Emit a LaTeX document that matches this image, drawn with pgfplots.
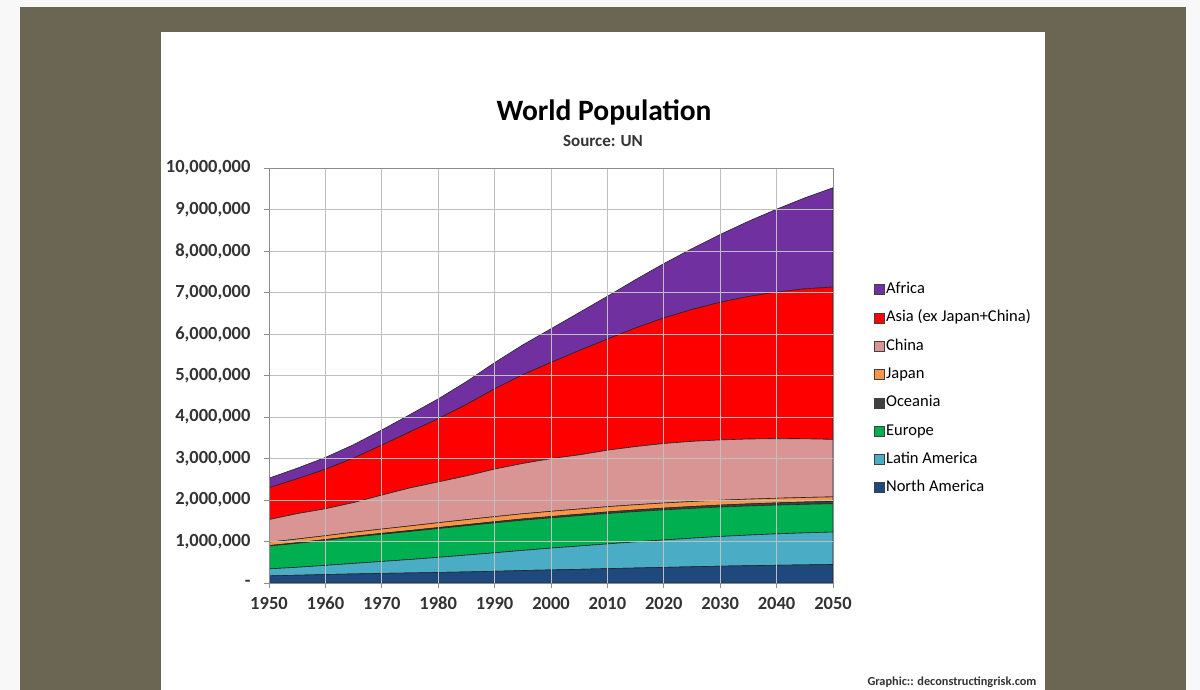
\documentclass[border=0pt]{standalone}
\usepackage{pgfplots}
\usepackage{pgfplotstable}
\usepackage{fontspec}
\setmainfont{Carlito}
\pgfplotsset{compat=1.18}

\definecolor{olivebg}{HTML}{6B6553}
\definecolor{edgebg}{HTML}{F8F8F8}
\definecolor{cAfrica}{HTML}{7030A0}
\definecolor{cAsia}{HTML}{FF0000}
\definecolor{cChina}{HTML}{D99594}
\definecolor{cJapan}{HTML}{F79646}
\definecolor{cOceania}{HTML}{404040}
\definecolor{cEurope}{HTML}{00B050}
\definecolor{cLatAm}{HTML}{4BACC6}
\definecolor{cNorAm}{HTML}{1F497D}
\definecolor{gridc}{HTML}{BFBFBF}
\definecolor{axisc}{HTML}{8C8C8C}
\definecolor{labc}{HTML}{333333}

% UN population, thousands
\pgfplotstableread{
year NorAm LatAm Europe Oceania Japan China Asia Africa
1950 172 168 549 13 82 544 769 229
1955 187 192 577 14 89 612 840 255
1960 204 220 606 16 93 650 951 285
1965 219 253 635 18 98 715 1073 322
1970 231 288 657 20 104 818 1203 366
1975 242 324 677 21 111 916 1352 416
1980 254 364 694 23 117 983 1523 478
1985 267 405 708 25 121 1054 1722 550
1990 282 446 721 27 123 1145 1934 632
1995 300 486 728 29 125 1212 2138 720
2000 315 526 729 31 126 1270 2318 811
2005 329 562 731 34 127 1304 2514 916
2010 346 596 733 37 127 1360 2678 1031
2015 361 630 730 39 126 1401 2858 1166
2020 376 661 725 42 124 1433 3025 1310
2025 391 690 717 45 121 1449 3179 1465
2030 405 716 709 47 117 1453 3317 1634
2035 417 738 701 50 115 1448 3434 1812
2040 427 757 694 52 112 1435 3533 1998
2045 437 771 688 55 110 1413 3614 2192
2050 446 782 682 57 108 1385 3671 2393
}\pop

\begin{document}
\begin{tikzpicture}[x=1pt,y=1pt]
\fill[edgebg] (0,0) rectangle (1200,690);
\useasboundingbox (0,0) rectangle (1200,690);
\fill[olivebg] (20,0) rectangle (1186,683);
\fill[white] (161,0) rectangle (1045,658);

\node[font=\fontsize{29.5}{34}\selectfont\bfseries] at (604,578) {World Population};
\node[font=\fontsize{17}{20}\selectfont\bfseries, text=labc] at (603,549) {Source: UN};
\node[anchor=east, font=\fontsize{12.3}{14}\selectfont\bfseries, text=labc] at (1040,8) {Graphic:: deconstructingrisk.com};

\begin{axis}[
  at={(269pt,107pt)}, anchor=south west,
  scale only axis, width=564pt, height=415pt,
  xmin=1950, xmax=2050, ymin=0, ymax=10000,
  scaled ticks=false,
  xtick={1950,1960,...,2050},
  xticklabels={1950,1960,1970,1980,1990,2000,2010,2020,2030,2040,2050},
  ytick={0,1000,...,10000},
  yticklabels={{-},{1,000,000},{2,000,000},{3,000,000},{4,000,000},{5,000,000},{6,000,000},{7,000,000},{8,000,000},{9,000,000},{10,000,000}},
  grid=major, grid style={gridc, line width=0.8pt},
  axis line style={axisc, line width=0.8pt},
  tick style={axisc, line width=0.8pt},
  tick align=outside, major tick length=5pt,
  xtick pos=bottom, ytick pos=left,
  ticklabel style={font=\fontsize{18.5}{22}\selectfont\bfseries, text=labc},
  yticklabel style={xshift=-10pt},
  xticklabel style={yshift=-6pt, text height=12pt, text depth=0pt},
  stack plots=y, area style,
  every axis plot/.append style={draw=black!85, line width=0.6pt},
  reverse legend,
  legend cell align=left,
  legend image code/.code={\draw[#1, line width=0.6pt, draw=black!75] (0pt,-5pt) rectangle (10pt,5pt);},
  legend style={at={(1.067,0.735)}, anchor=north west, draw=none, fill=none,
    font=\fontsize{16.5}{19}\selectfont, row sep=9.3pt,
    nodes={inner sep=1.5pt, text height=12pt, text depth=4pt}},
]
\addplot[fill=cNorAm] table[x=year,y=NorAm] {\pop} \closedcycle;
\addlegendentry{North America}
\addplot[fill=cLatAm] table[x=year,y=LatAm] {\pop} \closedcycle;
\addlegendentry{Latin America}
\addplot[fill=cEurope] table[x=year,y=Europe] {\pop} \closedcycle;
\addlegendentry{Europe}
\addplot[fill=cOceania] table[x=year,y=Oceania] {\pop} \closedcycle;
\addlegendentry{Oceania}
\addplot[fill=cJapan] table[x=year,y=Japan] {\pop} \closedcycle;
\addlegendentry{Japan}
\addplot[fill=cChina] table[x=year,y=China] {\pop} \closedcycle;
\addlegendentry{China}
\addplot[fill=cAsia] table[x=year,y=Asia] {\pop} \closedcycle;
\addlegendentry{Asia (ex Japan+China)}
\addplot[fill=cAfrica] table[x=year,y=Africa] {\pop} \closedcycle;
\addlegendentry{Africa}
\end{axis}
\end{tikzpicture}
\end{document}
